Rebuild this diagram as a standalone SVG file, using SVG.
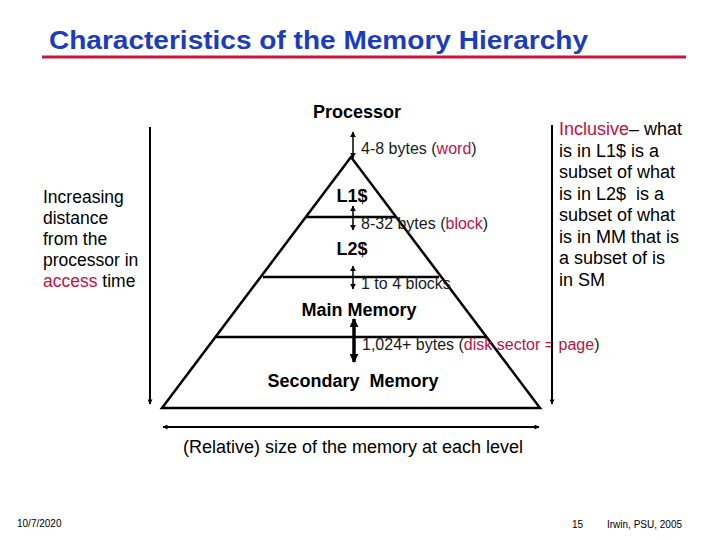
<svg xmlns="http://www.w3.org/2000/svg" width="720" height="540" viewBox="0 0 720 540">
<style>
  text { font-family: "Liberation Sans", Arial, sans-serif; fill: #000; }
  .title { font-size: 25px; font-weight: bold; fill: #1c3cc0; }
  .lvl { font-size: 18px; font-weight: bold; }
  .lbl { font-size: 16px; fill: #1a1a1a; }
  .side { font-size: 17.5px; }
  .rside { font-size: 18px; }
  .red { fill: #c0123f; }
  .foot { font-size: 10px; }
  .pyr { fill: none; stroke: #000; stroke-width: 2.5; }
  .ln { stroke: #000; stroke-width: 2; fill: none; }
  .thin { stroke: #000; stroke-width: 1.5; fill: none; }
</style>
<defs>
  <marker id="ah" viewBox="0 0 10 10" refX="9" refY="5" markerWidth="6" markerHeight="6" orient="auto-start-reverse" markerUnits="userSpaceOnUse">
    <path d="M0,0 L10,5 L0,10 z" fill="#000"/>
  </marker>
  <marker id="ahs" viewBox="0 0 10 10" refX="9" refY="5" markerWidth="7" markerHeight="5" orient="auto-start-reverse" markerUnits="userSpaceOnUse">
    <path d="M0,0 L10,5 L0,10 z" fill="#000"/>
  </marker>
  <marker id="ahb" viewBox="0 0 10 10" refX="9" refY="5" markerWidth="10" markerHeight="9" orient="auto-start-reverse" markerUnits="userSpaceOnUse">
    <path d="M0,0 L10,5 L0,10 z" fill="#000"/>
  </marker>
</defs>
<rect width="720" height="540" fill="#fff"/>

<g id="title">
  <text class="title" x="49" y="49" textLength="539" lengthAdjust="spacingAndGlyphs">Characteristics of the Memory Hierarchy</text>
  <line x1="42" y1="57" x2="686" y2="57" stroke="#c8163f" stroke-width="3"/>
</g>

<g id="pyramid">
  <polygon class="pyr" points="351,157 162,408 540,408"/>
  <line class="pyr" x1="306" y1="217" x2="396" y2="217"/>
  <line class="pyr" x1="263" y1="277" x2="439" y2="277"/>
  <line class="pyr" x1="216" y1="337" x2="486" y2="337"/>
</g>

<g id="processor"><text class="lvl" x="357" y="118" text-anchor="middle">Processor</text></g>
<g id="l1"><text class="lvl" x="352" y="202" text-anchor="middle">L1$</text></g>
<g id="l2"><text class="lvl" x="352" y="255" text-anchor="middle">L2$</text></g>
<g id="mm"><text class="lvl" x="359" y="316" text-anchor="middle">Main Memory</text></g>
<g id="sm"><text class="lvl" x="353" y="387" text-anchor="middle" xml:space="preserve">Secondary  Memory</text></g>

<g id="labels">
  <text class="lbl" x="361" y="154">4-8 bytes (<tspan class="red">word</tspan>)</text>
  <text class="lbl" x="361" y="229">8-32 bytes (<tspan class="red">block</tspan>)</text>
  <text class="lbl" x="361" y="289">1 to 4 blocks</text>
  <text class="lbl" x="362" y="350">1,024+ bytes (<tspan class="red">disk sector = page</tspan>)</text>
  <text x="353" y="453" text-anchor="middle" style="font-size:18px">(Relative) size of the memory at each level</text>
</g>

<g id="left-note">
  <text class="side" x="43" y="203">Increasing</text>
  <text class="side" x="43" y="224">distance</text>
  <text class="side" x="43" y="245">from the</text>
  <text class="side" x="43" y="266">processor in</text>
  <text class="side" x="43" y="287"><tspan class="red">access</tspan> time</text>
</g>

<g id="right-note">
  <text class="rside" x="559" y="135"><tspan class="red">Inclusive</tspan>– what</text>
  <text class="rside" x="559" y="156.5">is in L1$ is a</text>
  <text class="rside" x="559" y="178">subset of what</text>
  <text class="rside" x="559" y="199.5" xml:space="preserve">is in L2$  is a</text>
  <text class="rside" x="559" y="221">subset of what</text>
  <text class="rside" x="559" y="242.5">is in MM that is</text>
  <text class="rside" x="559" y="264">a subset of is</text>
  <text class="rside" x="559" y="285.5">in SM</text>
</g>

<g id="connectors">
  <line class="ln" x1="150" y1="127" x2="150" y2="404" marker-end="url(#ahs)"/>
  <line class="ln" x1="552" y1="125" x2="552" y2="404" marker-end="url(#ahs)"/>
  <line class="ln" x1="163" y1="427" x2="539" y2="427" marker-start="url(#ahs)" marker-end="url(#ahs)"/>
  <line class="thin" x1="353" y1="132" x2="353" y2="158" marker-start="url(#ah)" marker-end="url(#ah)"/>
  <line class="thin" x1="353" y1="206" x2="353" y2="230" marker-start="url(#ah)" marker-end="url(#ah)"/>
  <line class="thin" x1="353" y1="266" x2="353" y2="289" marker-start="url(#ah)" marker-end="url(#ah)"/>
  <line stroke="#000" stroke-width="3.5" x1="354" y1="319" x2="354" y2="362" marker-start="url(#ahb)" marker-end="url(#ahb)"/>
</g>

<g id="footer">
  <text class="foot" x="17" y="527">10/7/2020</text>
  <text class="foot" x="572" y="528">15</text>
  <text class="foot" x="607" y="528">Irwin, PSU, 2005</text>
</g>
</svg>
